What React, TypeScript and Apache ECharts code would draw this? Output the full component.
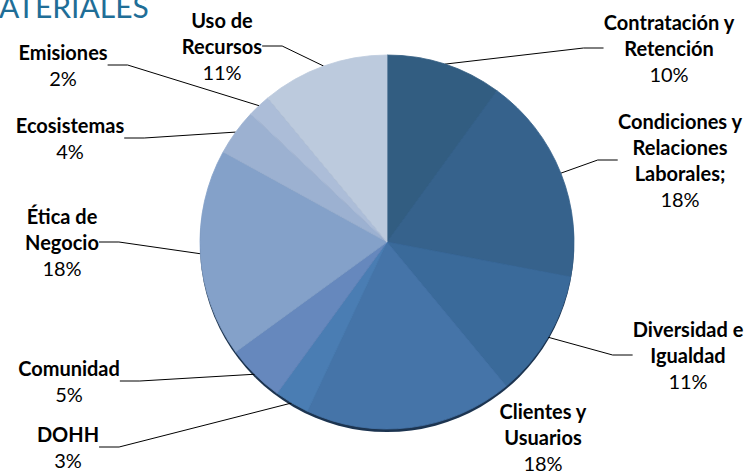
import React, { useEffect, useRef } from "react";
import * as echarts from "echarts";

const categories = [
  "Contratación y\nRetención",
  "Condiciones y\nRelaciones\nLaborales;",
  "Diversidad e\nIgualdad",
  "Clientes y\nUsuarios",
  "DOHH",
  "Comunidad",
  "Ética de\nNegocio",
  "Ecosistemas",
  "Emisiones",
  "Uso de\nRecursos",
];
const values = [10, 18, 11, 18, 3, 5, 18, 4, 2, 11];
const colors = [
  "#325d81",
  "#36628c",
  "#3a6a9a",
  "#4574a8",
  "#4a7db3",
  "#6688bd",
  "#84a1c9",
  "#9cb1d1",
  "#acbdd8",
  "#bccadd",
];
const titleText = "ATERIALES";

// label block centres (layout only)
const labelPos: [number, number][] = [
  [669, 48],
  [680, 160],
  [688, 355],
  [543, 437],
  [68, 447],
  [69, 381],
  [62, 242],
  [70, 138],
  [63, 65],
  [222, 46],
];
const showLine = [true, true, true, false, true, true, true, true, true, true];

export default function App() {
  const ref = useRef<HTMLDivElement>(null);
  useEffect(() => {
    if (!ref.current) return;
    const chart = echarts.init(ref.current, null, { renderer: "svg" });
    const font = "Lato, 'Open Sans', sans-serif";
    const center = [387, 242];
    const r = 187;
    chart.setOption({
      animation: false,
      graphic: [
        {
          type: "text",
          left: -1,
          top: -9,
          style: {
            text: titleText,
            fill: "#1f6e97",
            font: `30px ${font}`,
          },
        },
      ],
      series: [
        {
          type: "pie",
          silent: true,
          z: 1,
          center: [center[0], center[1] + 3],
          radius: r,
          data: [{ name: "shadow", value: 1, itemStyle: { color: "#1c3450" } }],
          label: { show: false },
          labelLine: { show: false },
        },
        {
          type: "pie",
          z: 2,
          center,
          radius: r,
          startAngle: 90,
          clockwise: true,
          data: categories.map((c, i) => ({
            name: c,
            value: values[i],
            itemStyle: { color: colors[i], borderColor: colors[i], borderWidth: 0.8 },
            labelLine: { show: showLine[i] },
          })),
          label: {
            show: true,
            formatter: (p: any) => `{n|${p.name}}\n{p|${p.value}%}`,
            color: "#000",
            fontFamily: font,
            rich: {
              n: { fontFamily: font, fontWeight: "bold", fontSize: 20, lineHeight: 26, color: "#000", align: "center" },
              p: { fontFamily: font, fontSize: 20, lineHeight: 26, color: "#000", align: "center" },
            },
          },
          labelLine: {
            show: true,
            length: 20,
            length2: 20,
            lineStyle: { color: "#000", width: 1 },
          },
          labelLayout: (params: any) => {
            const pos = labelPos[params.dataIndex];
            return {
              x: pos[0],
              y: pos[1],
              align: "center",
              verticalAlign: "middle",
            };
          },
        },
      ],
    });
    return () => chart.dispose();
  }, []);
  return (
    <div
      ref={ref}
      style={{ position: "absolute", left: 0, top: 0, width: 747, height: 476, background: "#fff" }}
    />
  );
}
